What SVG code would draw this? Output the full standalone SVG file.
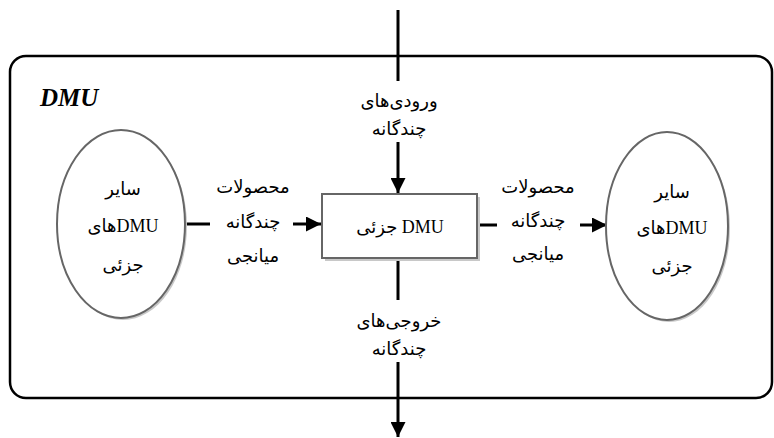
<svg xmlns="http://www.w3.org/2000/svg" width="774" height="438" viewBox="0 0 774 438">
<style>
.t{font-family:"Liberation Serif","DejaVu Sans",serif;font-size:18px;fill:#000;text-anchor:middle;direction:rtl;unicode-bidi:embed}
.ln{stroke:#000;stroke-width:3;fill:none}
.nd{fill:#fff;stroke:#666;stroke-width:2}
.sh{fill:#c8c8c8}
</style>
<defs>
<marker id="ah" markerWidth="5" markerHeight="5" refX="5" refY="2.5" orient="auto" markerUnits="strokeWidth">
<path d="M0,0 L5,2.5 L0,5 Z" fill="#000"/>
</marker>
</defs>
<g id="frame">
<rect x="10" y="56" width="762" height="342" rx="16" ry="16" fill="none" stroke="#000" stroke-width="2.5"/>
<text x="40" y="106" style="font-family:'Liberation Serif',serif;font-size:25px;font-weight:bold;font-style:italic">DMU</text>
</g>
<g id="connectors">
<line class="ln" x1="398" y1="10" x2="398" y2="81"/>
<line class="ln" x1="398" y1="142" x2="398" y2="193" marker-end="url(#ah)"/>
<line class="ln" x1="398" y1="258" x2="398" y2="300"/>
<line class="ln" x1="398" y1="362" x2="398" y2="437" marker-end="url(#ah)"/>
<line class="ln" x1="186" y1="224" x2="210" y2="224"/>
<line class="ln" x1="293" y1="224" x2="321" y2="224" marker-end="url(#ah)"/>
<line class="ln" x1="477" y1="225" x2="497" y2="225"/>
<line class="ln" x1="580" y1="225" x2="607" y2="225" marker-end="url(#ah)"/>
<text class="t" x="399" y="107">ورودی&#x200C;های</text>
<text class="t" x="399" y="135">چندگانه</text>
<text class="t" x="399" y="327">خروجی&#x200C;های</text>
<text class="t" x="399" y="355">چندگانه</text>
<text class="t" x="253" y="193">محصولات</text>
<text class="t" x="253" y="228">چندگانه</text>
<text class="t" x="253" y="262">میانجی</text>
<text class="t" x="538" y="193">محصولات</text>
<text class="t" x="538" y="227">چندگانه</text>
<text class="t" x="538" y="260">میانجی</text>
</g>
<g id="center-dmu">
<rect class="sh" x="325" y="197" width="155" height="64"/>
<rect class="nd" x="322" y="194" width="155" height="64"/>
<text class="t" x="400" y="233">DMU جزئی</text>
</g>
<g id="left-dmu">
<ellipse class="sh" cx="123" cy="226" rx="64" ry="94"/>
<ellipse class="nd" cx="121" cy="224" rx="64" ry="94"/>
<text class="t" x="123" y="195">سایر</text>
<text class="t" x="123" y="232">DMUهای</text>
<text class="t" x="123" y="271">جزئی</text>
</g>
<g id="right-dmu">
<ellipse class="sh" cx="669" cy="228" rx="61" ry="94"/>
<ellipse class="nd" cx="667" cy="226" rx="61" ry="94"/>
<text class="t" x="672" y="198">سایر</text>
<text class="t" x="672" y="234">DMUهای</text>
<text class="t" x="672" y="272">جزئی</text>
</g>
</svg>
